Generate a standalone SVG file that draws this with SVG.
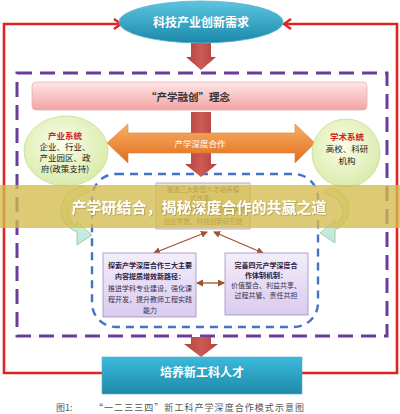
<svg xmlns="http://www.w3.org/2000/svg" width="400" height="414" viewBox="0 0 400 414">
<defs>
<style>
.cjk{font-family:"Noto Sans CJK SC","Noto Sans",sans-serif;}
.red-line{fill:none;stroke:#e0241f;stroke-width:2.6;}
.brown{fill:none;stroke:#a0512f;stroke-width:1.3;}
.blk{fill:url(#gDarkRed);}
.small{font-size:7px;fill:#3a2f4a;text-anchor:middle;}
.smallb{font-size:7px;fill:#2a2040;text-anchor:middle;font-weight:bold;}
.tiny{font-size:6.6px;fill:#4a3f30;text-anchor:middle;}
.circ{font-size:8.5px;fill:#222;text-anchor:middle;}
.circr{font-size:8.5px;fill:#d0261c;text-anchor:middle;font-weight:bold;}
</style>
<filter id="shadow" x="-5%" y="-30%" width="110%" height="160%">
<feDropShadow dx="0.8" dy="0.8" stdDeviation="0.6" flood-color="#5a4a10" flood-opacity="0.35"/>
</filter>
<linearGradient id="gTeal" x1="0" y1="0" x2="0" y2="1">
<stop offset="0" stop-color="#5cc6e0"/><stop offset="1" stop-color="#1a88aa"/>
</linearGradient>
<linearGradient id="gTeal2" x1="0" y1="0" x2="0" y2="1">
<stop offset="0" stop-color="#3cb9dc"/><stop offset="1" stop-color="#1e8aa8"/>
</linearGradient>
<linearGradient id="gPink" x1="0" y1="0" x2="0" y2="1">
<stop offset="0" stop-color="#fde6e6"/><stop offset="1" stop-color="#f3a4a4"/>
</linearGradient>
<linearGradient id="gOrange" x1="0" y1="0" x2="0" y2="1">
<stop offset="0" stop-color="#f8b067"/><stop offset="1" stop-color="#e06c1c"/>
</linearGradient>
<linearGradient id="gDarkRed" x1="0" y1="0" x2="1" y2="0">
<stop offset="0" stop-color="#b3403d"/><stop offset="0.5" stop-color="#cc5a55"/><stop offset="1" stop-color="#b3403d"/>
</linearGradient>
<radialGradient id="gGreen" cx="0.45" cy="0.4" r="0.65">
<stop offset="0" stop-color="#fbfde9"/><stop offset="1" stop-color="#d7eaa6"/>
</radialGradient>
<linearGradient id="gPurple" x1="0" y1="0" x2="0" y2="1">
<stop offset="0" stop-color="#f3eefa"/><stop offset="1" stop-color="#d9cbee"/>
</linearGradient>
<linearGradient id="gCurve" x1="0" y1="0" x2="0" y2="1">
<stop offset="0" stop-color="#eef6c0"/><stop offset="0.55" stop-color="#d8efc8"/><stop offset="1" stop-color="#b8e6f4"/>
</linearGradient>
<marker id="chev" markerUnits="userSpaceOnUse" markerWidth="12" markerHeight="12" refX="9" refY="6" orient="auto">
<path d="M2,1 L9,6 L2,11" fill="none" stroke="#e0241f" stroke-width="2.4"/>
</marker>
<marker id="bArrow" markerUnits="userSpaceOnUse" markerWidth="8" markerHeight="8" refX="6" refY="3.5" orient="auto-start-reverse">
<path d="M0,0 L7,3.5 L0,7 Z" fill="#a0512f"/>
</marker>
</defs>
<rect width="400" height="414" fill="#ffffff"/>

<g id="container-purple">
<rect x="17" y="73" width="370" height="263" fill="none" stroke="#6a3d9a" stroke-width="3" stroke-dasharray="15 8"/>
</g>
<g id="container-blue">
<rect x="92" y="174" width="226" height="153" rx="24" fill="none" stroke="#4472c4" stroke-width="2.4" stroke-dasharray="8 6"/>
</g>

<g id="connectors">
<polyline class="red-line" points="102,373 4,373 4,24 121,24" marker-end="url(#chev)"/>
<polyline class="red-line" points="302,373 397,373 397,24 284,24" marker-end="url(#chev)"/>
<polygon class="blk" points="191,43 211,43 211,57 216,57 201,70 186,57 191,57"/>
<polygon class="blk" points="191,112 211,112 211,164 217,164 201,177 185,164 191,164"/>
<polygon class="blk" points="191,337 211,337 211,344 218,344 201,357 184,344 191,344"/>
<line class="brown" x1="207" y1="232" x2="154" y2="253" marker-start="url(#bArrow)" marker-end="url(#bArrow)"/>
<line class="brown" x1="214" y1="232" x2="263" y2="253" marker-start="url(#bArrow)" marker-end="url(#bArrow)"/>
<line class="brown" x1="197" y1="283" x2="224" y2="283" marker-start="url(#bArrow)" marker-end="url(#bArrow)"/>
<path d="M84 186 C58 190 52 222 77 232 L77 245 L92 235 L77 222 L77 226 C64 220 64 198 90 192 Z" fill="url(#gCurve)" stroke="#9cc46c" stroke-width="0.8"/>
<path d="M330 188 C352 192 356 220 335 230 L335 243 L320 233 L335 220 L335 224 C347 218 346 198 324 193 Z" fill="url(#gCurve)" stroke="#9cc46c" stroke-width="0.8"/>
</g>

<g id="node-demand">
<ellipse cx="201" cy="22" rx="82" ry="21" fill="url(#gTeal)" stroke="#5fb0c8" stroke-width="0.8"/>
<text class="cjk" x="201" y="26.5" font-size="12" font-weight="bold" fill="#ffffff" text-anchor="middle">科技产业创新需求</text>
</g>

<g id="node-concept">
<rect x="32" y="82" width="335" height="28" rx="4" fill="url(#gPink)" stroke="#e8b0b0" stroke-width="0.8"/>
<text class="cjk" x="188" y="100.5" font-size="10.5" font-weight="bold" fill="#333333" text-anchor="middle">“产学融创”理念</text>
</g>

<g id="node-cooperation">
<polygon points="107,143 128,124 128,133 295,133 295,124 315,143 295,163 295,153 128,153 128,163" fill="url(#gOrange)" stroke="#e0802e" stroke-width="0.6"/>
<text class="cjk" x="200" y="146.5" font-size="8.5" fill="#ffffff" text-anchor="middle">产学深度合作</text>
</g>

<g id="node-industry">
<ellipse cx="66" cy="151" rx="42" ry="35" fill="url(#gGreen)" stroke="#c9dc98" stroke-width="0.8"/>
<text class="cjk circr" x="65" y="139">产业系统</text>
<text class="cjk circ" x="65" y="150">企业、行业、</text>
<text class="cjk circ" x="65" y="161">产业园区、政</text>
<text class="cjk circ" x="65" y="172">府(政策支持)</text>
</g>

<g id="node-academic">
<ellipse cx="346" cy="153" rx="34" ry="34" fill="url(#gGreen)" stroke="#c9dc98" stroke-width="0.8"/>
<text class="cjk circr" x="347" y="140">学术系统</text>
<text class="cjk circ" x="347" y="152">高校、科研</text>
<text class="cjk circ" x="347" y="164">机构</text>
</g>

<g id="node-reform">
<rect x="156" y="183" width="94" height="46" fill="#f2e9cf" stroke="#a99cc4" stroke-width="0.8"/>
<text class="cjk tiny" x="203" y="191.5">推进三大新型人才培养模</text>
<text class="cjk tiny" x="203" y="201">式改革：</text>
<text class="cjk tiny" x="203" y="212">现代产业学院、未来技术学院</text>
<text class="cjk tiny" x="203" y="224">创业学院、科技创新研究院</text>
</g>

<g id="node-content">
<rect x="103" y="253" width="93" height="64" fill="url(#gPurple)" stroke="#a08cc8" stroke-width="0.8"/>
<text class="cjk smallb" x="150" y="267.5">探索产学深度合作三大主要</text>
<text class="cjk smallb" x="150" y="278.5">内容提质增效新路径：</text>
<text class="cjk small" x="150" y="290.5">推进学科专业建设，强化课</text>
<text class="cjk small" x="150" y="301.5">程开发，提升教师工程实践</text>
<text class="cjk small" x="150" y="312.5">能力</text>
</g>

<g id="node-mechanism">
<rect x="225" y="253" width="83" height="62" fill="url(#gPurple)" stroke="#a08cc8" stroke-width="0.8"/>
<text class="cjk smallb" x="266" y="267.5">完善四元产学深度合</text>
<text class="cjk smallb" x="266" y="277.5">作体制机制：</text>
<text class="cjk small" x="266" y="287.5">价值整合、利益共享、</text>
<text class="cjk small" x="266" y="297.5">过程共管、责任共担</text>
</g>

<g id="node-talent">
<rect x="102" y="357" width="200" height="37" fill="url(#gTeal2)" stroke="#5aaccc" stroke-width="0.6"/>
<text class="cjk" x="202" y="376.5" font-size="12" font-weight="bold" fill="#ffffff" text-anchor="middle">培养新工科人才</text>
</g>

<g id="banner">
<rect x="0" y="185" width="400" height="43" fill="#d4bb4e" fill-opacity="0.78"/>
<text class="cjk" x="199" y="213" font-size="15" font-weight="bold" fill="#ffffff" text-anchor="middle" filter="url(#shadow)">产学研结合，揭秘深度合作的共赢之道</text>
</g>

<g id="caption">
<text class="cjk" x="56" y="411" font-size="9" fill="#555555">图1:</text>
<text class="cjk" x="94" y="411" font-size="9" fill="#555555" letter-spacing="1.05">“一二三三四”新工科产学深度合作模式示意图</text>
</g>
</svg>
